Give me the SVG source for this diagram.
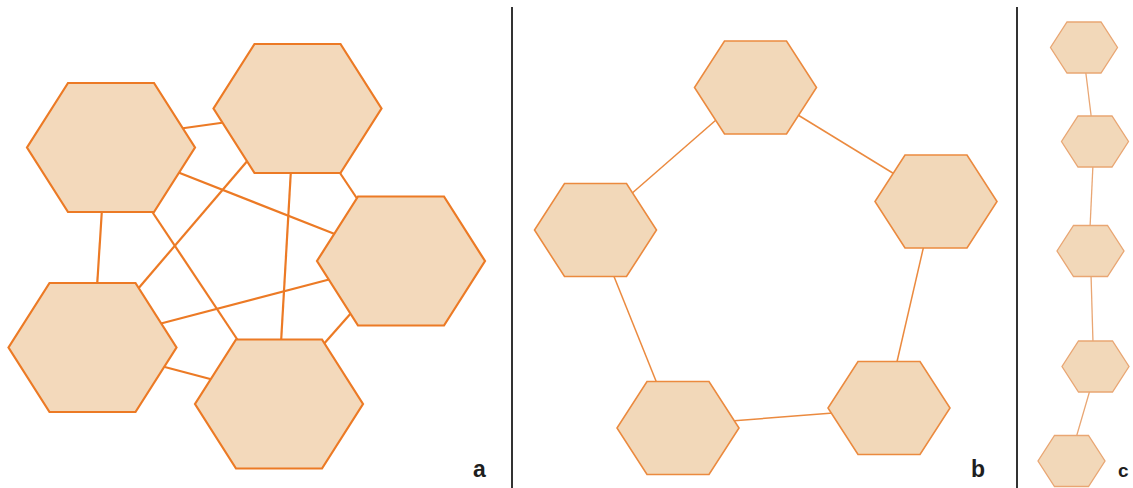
<svg xmlns="http://www.w3.org/2000/svg" xmlns:xlink="http://www.w3.org/1999/xlink" width="1133" height="488" viewBox="0 0 1133 488">
<defs>
<style>
.hexa{fill:#f3d9bb;stroke:#ec7a25;stroke-width:2.2;stroke-linejoin:miter}
.hexb{fill:#f2d8b9;stroke:#eb8a3f;stroke-width:1.6}
.hexc{fill:#f2d8b9;stroke:#e9a673;stroke-width:1.3}
.ea{stroke:#ec7a25;stroke-width:2.2;fill:none}
.eb{stroke:#eb8a3f;stroke-width:1.5;fill:none}
.ec{stroke:#e9a673;stroke-width:1.3;fill:none}
.div{stroke:#333;stroke-width:2}
.lbl{font-family:"Liberation Sans",Arial,sans-serif;font-size:23px;font-weight:bold;fill:#1e1e1e}
</style>
<polygon id="hA" points="-43,-64.5 43,-64.5 84,0 43,64.5 -43,64.5 -84,0"/>
<polygon id="hB" points="-31,-46.5 31,-46.5 61,0 31,46.5 -31,46.5 -61,0"/>
<polygon id="hC" points="-17,-25.5 17,-25.5 33.5,0 17,25.5 -17,25.5 -33.5,0"/>
</defs>
<rect width="1133" height="488" fill="#ffffff"/>
<g id="dividers">
<line class="div" x1="512" y1="7" x2="512" y2="488"/>
<line class="div" x1="1017" y1="7" x2="1017" y2="488"/>
</g>
<g id="connectors">
<line class="ea" x1="181" y1="128.5" x2="224" y2="122.5"/>
<line class="ea" x1="176" y1="171.5" x2="336" y2="234.5"/>
<line class="ea" x1="102" y1="209" x2="97" y2="287"/>
<line class="ea" x1="151" y1="210" x2="239" y2="342"/>
<line class="ea" x1="338" y1="170" x2="358" y2="200"/>
<line class="ea" x1="249" y1="159" x2="137" y2="290"/>
<line class="ea" x1="291" y1="169" x2="281" y2="343"/>
<line class="ea" x1="331" y1="279" x2="159" y2="324"/>
<line class="ea" x1="352" y1="312" x2="322" y2="346"/>
<line class="ea" x1="161" y1="366" x2="214" y2="380"/>
<line class="eb" x1="716" y1="120" x2="630" y2="195"/>
<line class="eb" x1="798" y1="115" x2="896" y2="175"/>
<line class="eb" x1="924" y1="245" x2="896" y2="366"/>
<line class="eb" x1="613" y1="274" x2="658" y2="386"/>
<line class="eb" x1="731" y1="421" x2="833" y2="413"/>
<line class="ec" x1="1085.5" y1="70" x2="1091.5" y2="119"/>
<line class="ec" x1="1093" y1="164" x2="1090" y2="228"/>
<line class="ec" x1="1091" y1="274" x2="1093" y2="343"/>
<line class="ec" x1="1090" y1="390" x2="1076" y2="438"/>
</g>
<g id="a1"><use href="#hA" class="hexa" x="111" y="147.5"/></g>
<g id="a2"><use href="#hA" class="hexa" x="297.5" y="108.5"/></g>
<g id="a3"><use href="#hA" class="hexa" x="401" y="261"/></g>
<g id="a4"><use href="#hA" class="hexa" x="92.5" y="347.5"/></g>
<g id="a5"><use href="#hA" class="hexa" x="279" y="404"/></g>
<g id="b1"><use href="#hB" class="hexb" x="755.5" y="87.5"/></g>
<g id="b2"><use href="#hB" class="hexb" x="936" y="201.5"/></g>
<g id="b3"><use href="#hB" class="hexb" x="595.5" y="230"/></g>
<g id="b4"><use href="#hB" class="hexb" x="678" y="428"/></g>
<g id="b5"><use href="#hB" class="hexb" x="889" y="408"/></g>
<g id="c1"><use href="#hC" class="hexc" x="1084" y="47.5"/></g>
<g id="c2"><use href="#hC" class="hexc" x="1095" y="141.5"/></g>
<g id="c3"><use href="#hC" class="hexc" x="1090.5" y="251"/></g>
<g id="c4"><use href="#hC" class="hexc" x="1095.5" y="366.5"/></g>
<g id="c5"><use href="#hC" class="hexc" x="1071.5" y="461"/></g>
<g id="labels">
<text class="lbl" x="473" y="477">a</text>
<text class="lbl" x="971" y="477">b</text>
<text class="lbl" x="1118" y="477" style="font-size:19px">c</text>
</g>
</svg>
